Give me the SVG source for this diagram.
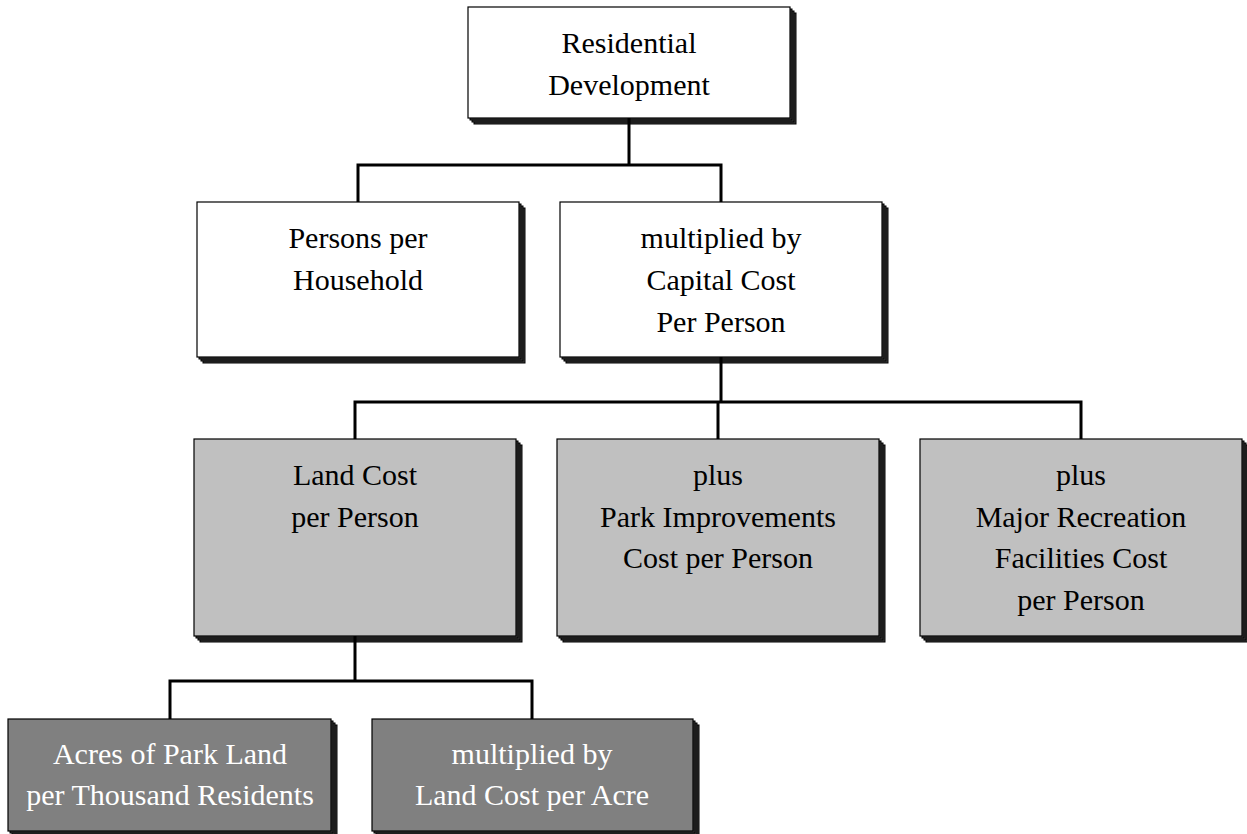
<svg xmlns="http://www.w3.org/2000/svg" width="1247" height="834" viewBox="0 0 1247 834">
  <defs>
    <style>
      .sh { fill: #3a3a3a; stroke: #000; stroke-width: 1; }
      .box { stroke: #000; stroke-width: 1.2; }
      .white { fill: #ffffff; }
      .light { fill: #c0c0c0; }
      .dark { fill: #808080; }
      .lbl { font-family: "Liberation Serif", "Times New Roman", serif; font-size: 30px; text-anchor: middle; fill: #000; }
      .lbl.inv { fill: #ffffff; }
      .conn { fill: none; stroke: #000; stroke-width: 3; stroke-linejoin: miter; }
    </style>
    <!-- stacked extrusion shadow, reused by every box (322 x 1 unit, scaled per node height) -->
  </defs>
  <rect width="1247" height="834" fill="#ffffff"/>

  <!-- Level 0 -->
  <g id="residential-development">
    <rect class="sh" x="474" y="13" width="322" height="111"/>
    <rect class="sh" x="472" y="11" width="322" height="111"/>
    <rect class="sh" x="470" y="9" width="322" height="111"/>
    <rect class="box white" x="468" y="7" width="322" height="111"/>
    <text class="lbl" x="629" y="53">Residential</text>
    <text class="lbl" x="629" y="95">Development</text>
  </g>

  <!-- Level 1 -->
  <g id="persons-per-household">
    <rect class="sh" x="203" y="208" width="322" height="155"/>
    <rect class="sh" x="201" y="206" width="322" height="155"/>
    <rect class="sh" x="199" y="204" width="322" height="155"/>
    <rect class="box white" x="197" y="202" width="322" height="155"/>
    <text class="lbl" x="358" y="248">Persons per</text>
    <text class="lbl" x="358" y="290">Household</text>
  </g>

  <g id="capital-cost-per-person">
    <rect class="sh" x="566" y="208" width="322" height="155"/>
    <rect class="sh" x="564" y="206" width="322" height="155"/>
    <rect class="sh" x="562" y="204" width="322" height="155"/>
    <rect class="box white" x="560" y="202" width="322" height="155"/>
    <text class="lbl" x="721" y="248">multiplied by</text>
    <text class="lbl" x="721" y="290">Capital Cost</text>
    <text class="lbl" x="721" y="332">Per Person</text>
  </g>

  <!-- Level 2 -->
  <g id="land-cost-per-person">
    <rect class="sh" x="200" y="445" width="322" height="197"/>
    <rect class="sh" x="198" y="443" width="322" height="197"/>
    <rect class="sh" x="196" y="441" width="322" height="197"/>
    <rect class="box light" x="194" y="439" width="322" height="197"/>
    <text class="lbl" x="355" y="485">Land Cost</text>
    <text class="lbl" x="355" y="527">per Person</text>
  </g>

  <g id="park-improvements-cost">
    <rect class="sh" x="563" y="445" width="322" height="197"/>
    <rect class="sh" x="561" y="443" width="322" height="197"/>
    <rect class="sh" x="559" y="441" width="322" height="197"/>
    <rect class="box light" x="557" y="439" width="322" height="197"/>
    <text class="lbl" x="718" y="485">plus</text>
    <text class="lbl" x="718" y="527">Park Improvements</text>
    <text class="lbl" x="718" y="568">Cost per Person</text>
  </g>

  <g id="major-recreation-facilities-cost">
    <rect class="sh" x="926" y="445" width="322" height="197"/>
    <rect class="sh" x="924" y="443" width="322" height="197"/>
    <rect class="sh" x="922" y="441" width="322" height="197"/>
    <rect class="box light" x="920" y="439" width="322" height="197"/>
    <text class="lbl" x="1081" y="485">plus</text>
    <text class="lbl" x="1081" y="527">Major Recreation</text>
    <text class="lbl" x="1081" y="568">Facilities Cost</text>
    <text class="lbl" x="1081" y="610">per Person</text>
  </g>

  <!-- Level 3 -->
  <g id="acres-per-thousand-residents">
    <rect class="sh" x="14" y="725" width="323" height="112"/>
    <rect class="sh" x="12" y="723" width="323" height="112"/>
    <rect class="sh" x="10" y="721" width="323" height="112"/>
    <rect class="box dark" x="8" y="719" width="323" height="112"/>
    <text class="lbl inv" x="170" y="764">Acres of Park Land</text>
    <text class="lbl inv" x="170" y="805">per Thousand Residents</text>
  </g>

  <g id="land-cost-per-acre">
    <rect class="sh" x="378" y="725" width="321" height="112"/>
    <rect class="sh" x="376" y="723" width="321" height="112"/>
    <rect class="sh" x="374" y="721" width="321" height="112"/>
    <rect class="box dark" x="372" y="719" width="321" height="112"/>
    <text class="lbl inv" x="532" y="764">multiplied by</text>
    <text class="lbl inv" x="532" y="805">Land Cost per Acre</text>
  </g>

  <!-- Orthogonal tree connectors -->
  <g id="connectors">
    <path class="conn" d="M629 118 V165 M358 202 V165 H721 V202"/>
    <path class="conn" d="M721 357 V402 M355 439 V402 H1081 V439 M718 402 V439"/>
    <path class="conn" d="M355 636 V681 M170 719 V681 H532 V719"/>
  </g>
</svg>
